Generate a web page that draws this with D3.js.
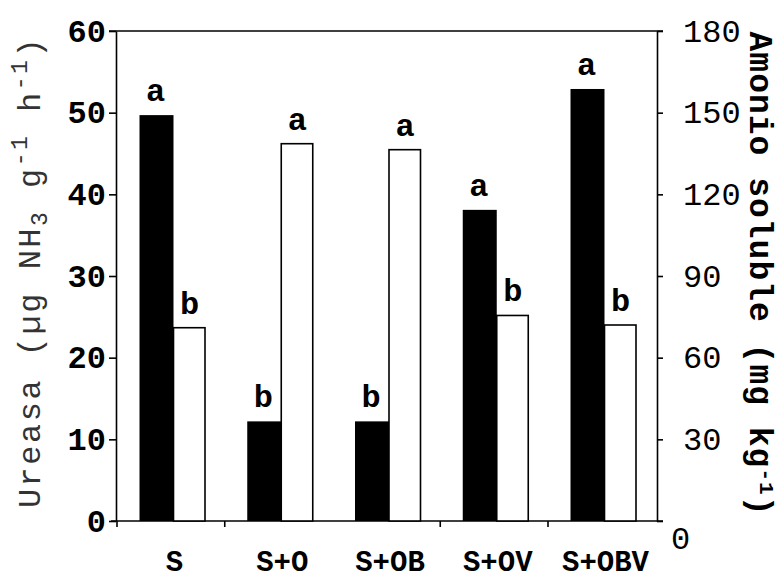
<!DOCTYPE html>
<html>
<head>
<meta charset="utf-8">
<script src="https://cdn.jsdelivr.net/npm/d3@7"></script>
<style>
  body { margin: 0; background: #fff; }
  svg { display: block; font-family: 'Liberation Mono', 'DejaVu Sans Mono', monospace; }
</style>
</head>
<body>
<script>
const categories = ['S', 'S+O', 'S+OB', 'S+OV', 'S+OBV']
const ureasa = [49.7, 12.2, 12.2, 38.1, 52.9]
const amonio = [71, 138.6, 136.4, 75.5, 72]
const ureasaLetters = ['a', 'b', 'b', 'a', 'a']
const amonioLetters = ['b', 'a', 'a', 'b', 'b']
const leftTicks = [0, 10, 20, 30, 40, 50, 60]
const rightTicks = [0, 30, 60, 90, 120, 150, 180]
// the original only marks some of the group boundaries
const xTickCats = ['S', 'S+O', 'S+OV', 'S+OBV']

const W = 781, H = 579
const plotL = 116, plotR = 657, plotT = 31, plotB = 521

const svg = d3.select('body').append('svg').attr('width', W).attr('height', H)

const x = d3.scaleBand().domain(categories).range([117, 655.75])
const yL = d3.scaleLinear().domain([0, 60]).range([plotB, plotT])
const yR = d3.scaleLinear().domain([0, 180]).range([plotB, plotT])

const blackX = d => x(d) + 22.5
const whiteX = d => x(d) + 56.5

// frame lines
const frame = svg.append('g').attr('stroke', '#000').attr('stroke-width', 1.6)
frame.append('line').attr('x1', 109).attr('x2', 663).attr('y1', plotT).attr('y2', plotT)
frame.append('line').attr('x1', 111).attr('x2', 663).attr('y1', plotB).attr('y2', plotB)

// bars
const rows = categories.map((c, i) => ({ c, u: ureasa[i], a: amonio[i], lu: ureasaLetters[i], la: amonioLetters[i] }))

svg.append('g').selectAll('rect').data(rows).join('rect')
  .attr('x', d => blackX(d.c)).attr('width', 34)
  .attr('y', d => yL(d.u)).attr('height', d => plotB - yL(d.u))
  .attr('fill', '#000')

svg.append('g').selectAll('rect').data(rows).join('rect')
  .attr('x', d => whiteX(d.c)).attr('width', 31.5)
  .attr('y', d => yR(d.a)).attr('height', d => plotB - yR(d.a))
  .attr('fill', '#fff').attr('stroke', '#000').attr('stroke-width', 1.6)

// significance letters
const letters = svg.append('g').attr('font-size', 32).attr('font-weight', 'bold').attr('text-anchor', 'middle')
letters.selectAll('.lu').data(rows).join('text').attr('class', 'lu')
  .attr('x', d => blackX(d.c) + 16).attr('y', d => yL(d.u) - 14).text(d => d.lu)
letters.selectAll('.la').data(rows).join('text').attr('class', 'la')
  .attr('x', d => whiteX(d.c) + 16).attr('y', d => yR(d.a) - 14).text(d => d.la)

// left axis
const gl = svg.append('g').attr('transform', `translate(${plotL},0)`)
  .call(d3.axisLeft(yL).tickValues(leftTicks).tickSize(7).tickPadding(3).tickSizeOuter(0))
gl.select('.domain').attr('stroke-width', 1.6)
gl.selectAll('.tick line').attr('stroke-width', 1.6)
gl.selectAll('.tick text').attr('font-size', 32).attr('font-weight', 'bold')
  .attr('font-family', "'Liberation Mono', monospace").attr('fill', '#000')

// right axis
const gr = svg.append('g').attr('transform', `translate(${plotR},0)`)
  .call(d3.axisRight(yR).tickValues(rightTicks).tickSize(6).tickPadding(20).tickSizeOuter(0))
gr.select('.domain').attr('stroke-width', 1.6)
gr.selectAll('.tick line').attr('stroke-width', 1.6)
gr.selectAll('.tick text').attr('font-size', 32)
  .attr('font-family', "'Liberation Mono', monospace").attr('fill', '#000')
gr.selectAll('.tick text').filter(d => d === 0).attr('dx', -12).attr('dy', '0.85em')

// x axis ticks and labels
svg.append('g').selectAll('line').data(xTickCats).join('line')
  .attr('x1', d => x(d)).attr('x2', d => x(d))
  .attr('y1', plotB).attr('y2', plotB + 6)
  .attr('stroke', '#000').attr('stroke-width', 1.6)

svg.append('g').selectAll('text').data(categories).join('text')
  .attr('x', d => whiteX(d) + 1).attr('y', 571)
  .attr('text-anchor', 'middle').attr('font-size', 29).attr('font-weight', 'bold')
  .text(d => d)

// axis titles
const tl = svg.append('text')
  .attr('transform', 'translate(40,272) rotate(-90)')
  .attr('text-anchor', 'middle').attr('font-size', 32).attr('fill', '#333')
  .attr('letter-spacing', 2.5)
tl.append('tspan').text('Ureasa (µg NH')
tl.append('tspan').attr('font-size', 23).attr('dy', 7).text('3')
tl.append('tspan').attr('dy', -7).text(' g')
tl.append('tspan').attr('font-size', 23).attr('dy', -13).text('-1')
tl.append('tspan').attr('dy', 13).text(' h')
tl.append('tspan').attr('font-size', 23).attr('dy', -13).text('-1')
tl.append('tspan').attr('dy', 13).text(')')

const tr = svg.append('text')
  .attr('transform', 'translate(750,274) rotate(90)')
  .attr('text-anchor', 'middle').attr('font-size', 33).attr('font-weight', 'bold')
  .attr('letter-spacing', 1)
tr.append('tspan').text('Amonio soluble (mg kg')
tr.append('tspan').attr('font-size', 21).attr('dy', -10).text('-1')
tr.append('tspan').attr('dy', 10).text(')')
</script>
</body>
</html>
